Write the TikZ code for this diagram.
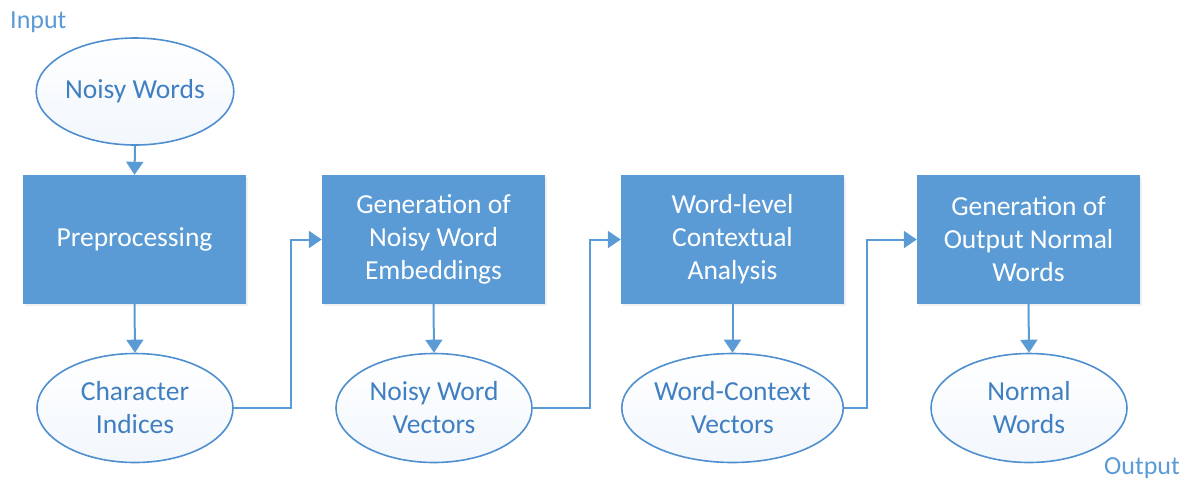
\documentclass[tikz,border=0pt]{standalone}
\usepackage{fontspec}
\setmainfont{Carlito}
\usetikzlibrary{shapes.geometric,arrows.meta,shadows}
\definecolor{boxblue}{HTML}{5B9BD5}
\definecolor{edgeblue}{HTML}{4F8FCF}
\definecolor{textblue}{HTML}{3F7FC2}
\definecolor{ovalfill}{HTML}{F2F7FC}
\tikzset{
  stage/.style={rectangle, fill=boxblue, draw=none, minimum width=223pt, minimum height=129pt,
    inner sep=0pt, text=white, align=center, font=\fontsize{27.5}{33}\selectfont,
    drop shadow={opacity=0.12, shadow xshift=1.5pt, shadow yshift=-2pt}},
  datum/.style={ellipse, draw=edgeblue, line width=1.6pt, top color=white, bottom color=ovalfill,
    minimum width=196pt, minimum height=109pt, inner sep=0pt, text=textblue, align=center,
    font=\fontsize{27.5}{33}\selectfont},
  tag/.style={text=boxblue, font=\fontsize{26}{30}\selectfont, inner sep=0pt},
  conn/.style={draw=boxblue, line width=2pt, -{Triangle[length=13pt,width=17pt]}}
}
\begin{document}
\begin{tikzpicture}[x=1pt,y=-1pt]
  \useasboundingbox (0,0) rectangle (1191,483);

  % input / output tags
  \node[tag, anchor=west] (in) at (10,22) {Input};
  \node[tag, anchor=east] (out) at (1180,468) {Output};

  % processing stages
  \node[stage] (pre) at (134.5,239.5) {Preprocessing};
  \node[stage] (emb) at (433.5,239.5) {Generation of\\Noisy Word\\Embeddings};
  \node[stage] (ctx) at (732.5,239.5) {Word-level\\Contextual\\Analysis};
  \node[stage] (gen) at (1028.5,239.5) {Generation of\\Output Normal\\Words};

  % data items
  \node[datum, minimum height=107pt] (nw) at (135,91.5) {Noisy Words};
  \node[datum] (ci) at (135,408) {Character\\Indices};
  \node[datum] (nv) at (434,408) {Noisy Word\\Vectors};
  \node[datum, minimum width=210pt] (cv) at (732.5,408) {Word-Context\\Vectors};
  \node[datum] (on) at (1029,408) {Normal\\Words};

  % bend columns for the links back up to the next stage
  \coordinate (k1) at (291,0);
  \coordinate (k2) at (590,0);
  \coordinate (k3) at (867,0);

  % connectors
  \draw[conn] (nw.south) -- (pre.north);
  \draw[conn] (pre.south) -- (ci.north);
  \draw[conn] (emb.south) -- (nv.north);
  \draw[conn] (ctx.south) -- (cv.north);
  \draw[conn] (gen.south) -- (on.north);
  \draw[conn] (ci.east) -- (ci.east -| k1) |- (emb.west);
  \draw[conn] (nv.east) -- (nv.east -| k2) |- (ctx.west);
  \draw[conn] (cv.east) -- (cv.east -| k3) |- (gen.west);
\end{tikzpicture}
\end{document}
